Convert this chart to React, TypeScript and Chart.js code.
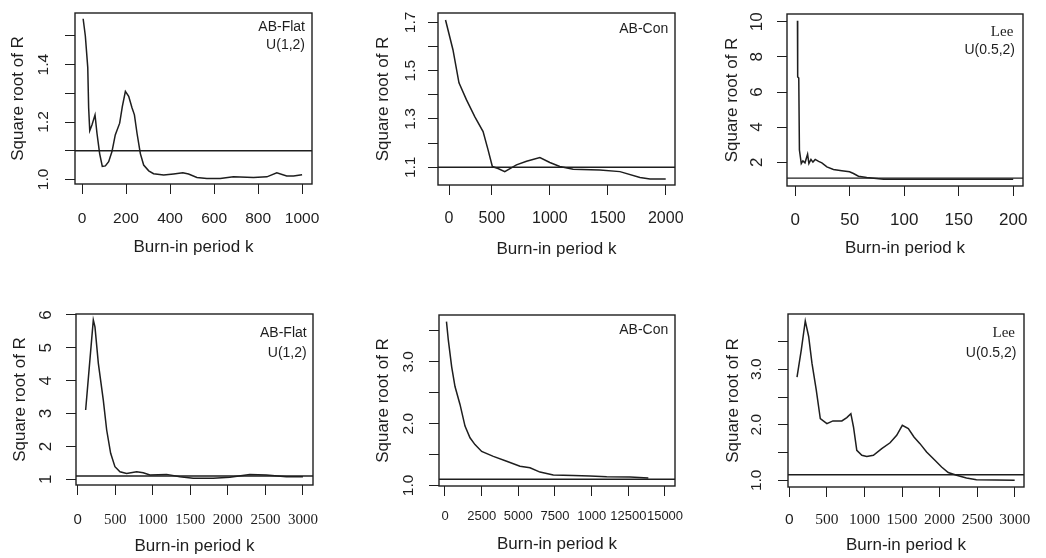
import React, { useEffect, useRef } from "react";
import { Chart, registerables } from "chart.js";
Chart.register(...registerables);

// ---------- data ----------
const xAxisTitle = "Burn-in period k";
const yAxisTitle = "Square root of R";
const threshold = 1.1;

// Panel 1: AB-Flat U(1,2)
const p1X = [5, 15, 26, 30, 35, 45, 59, 68, 80, 92, 106, 121, 136, 151, 171, 183, 197, 212, 227, 238, 250, 265, 280, 303, 325, 371, 416, 458, 484, 522, 567, 628, 688, 779, 840, 885, 930, 961, 1000];
const p1Y = [1.56, 1.5, 1.39, 1.25, 1.17, 1.19, 1.225, 1.16, 1.09, 1.045, 1.047, 1.062, 1.097, 1.155, 1.196, 1.254, 1.307, 1.29, 1.25, 1.225, 1.16, 1.09, 1.05, 1.03, 1.02, 1.015, 1.019, 1.023, 1.019, 1.007, 1.003, 1.003, 1.009, 1.007, 1.009, 1.023, 1.012, 1.012, 1.016];
const p1XTicks = [0, 200, 400, 600, 800, 1000];
const p1XTickLabels = ["0", "200", "400", "600", "800", "1000"];
const p1YTicks = [1.0, 1.1, 1.2, 1.3, 1.4, 1.5];
const p1YTickLabels = ["1.0", "", "1.2", "", "1.4", ""];
const p1Notes = ["AB-Flat", "U(1,2)"];

// Panel 2: AB-Con
const p2X = [100, 164, 216, 280, 352, 424, 467, 504, 553, 611, 712, 799, 914, 1000, 1086, 1201, 1432, 1605, 1778, 1864, 2000];
const p2Y = [1.71, 1.587, 1.45, 1.38, 1.31, 1.248, 1.172, 1.103, 1.095, 1.082, 1.11, 1.125, 1.14, 1.12, 1.103, 1.092, 1.089, 1.082, 1.058, 1.051, 1.051];
const p2XTicks = [130, 500, 1000, 1500, 2000];
const p2XTickLabels = ["0", "500", "1000", "1500", "2000"];
const p2YTicks = [1.1, 1.2, 1.3, 1.4, 1.5, 1.6, 1.7];
const p2YTickLabels = ["1.1", "", "1.3", "", "1.5", "", "1.7"];
const p2Notes = ["AB-Con"];

// Panel 3: Lee U(0.5,2)
const p3X = [2, 2.2, 3.2, 3.8, 5.5, 7, 8.9, 11.3, 12.5, 14.4, 16.2, 18.3, 21.4, 24.4, 29, 35, 42.7, 49.8, 53.4, 58, 65.6, 81, 100, 120, 140, 160, 180, 200];
const p3Y = [10.05, 6.86, 6.8, 2.7, 1.93, 2.08, 1.97, 2.46, 1.93, 2.16, 2.01, 2.16, 2.05, 1.97, 1.74, 1.59, 1.52, 1.46, 1.36, 1.21, 1.14, 1.04, 1.03, 1.04, 1.03, 1.04, 1.03, 1.03];
const p3XTicks = [0, 50, 100, 150, 200];
const p3XTickLabels = ["0", "50", "100", "150", "200"];
const p3YTicks = [2, 4, 6, 8, 10];
const p3YTickLabels = ["2", "4", "6", "8", "10"];
const p3Notes = ["Lee", "U(0.5,2)"];

// Panel 4: AB-Flat U(1,2)
const p4X = [106, 155, 208, 230, 275, 341, 386, 439, 496, 563, 652, 785, 873, 962, 1184, 1361, 1538, 1804, 2026, 2292, 2513, 2779, 3000];
const p4Y = [3.11, 4.43, 5.85, 5.64, 4.53, 3.41, 2.5, 1.79, 1.385, 1.23, 1.18, 1.23, 1.2, 1.13, 1.15, 1.08, 1.03, 1.03, 1.06, 1.15, 1.13, 1.08, 1.08];
const p4XTicks = [0, 500, 1000, 1500, 2000, 2500, 3000];
const p4XTickLabels = ["0", "500", "1000", "1500", "2000", "2500", "3000"];
const p4YTicks = [1, 2, 3, 4, 5, 6];
const p4YTickLabels = ["1", "2", "3", "4", "5", "6"];
const p4Notes = ["AB-Flat", "U(1,2)"];

// Panel 5: AB-Con
const p5X = [100, 227, 455, 682, 1023, 1364, 1705, 2045, 2500, 3295, 4205, 5114, 5795, 6477, 7386, 8750, 9886, 11023, 12614, 13864];
const p5Y = [3.65, 3.35, 2.92, 2.6, 2.31, 1.96, 1.77, 1.66, 1.55, 1.47, 1.39, 1.31, 1.285, 1.215, 1.17, 1.16, 1.15, 1.14, 1.135, 1.12];
const p5XTicks = [0, 2500, 5000, 7500, 10000, 12500, 15000];
const p5XTickLabels = ["0", "2500", "5000", "7500", "1000", "12500", "15000"];
const p5YTicks = [1.0, 1.5, 2.0, 2.5, 3.0, 3.5];
const p5YTickLabels = ["1.0", "", "2.0", "", "3.0", ""];
const p5Notes = ["AB-Con"];

// Panel 6: Lee U(0.5,2)
const p6X = [102, 159, 212, 257, 301, 358, 412, 500, 580, 699, 765, 819, 854, 898, 965, 1031, 1119, 1230, 1341, 1429, 1504, 1584, 1659, 1739, 1827, 1938, 2027, 2115, 2226, 2358, 2491, 3000];
const p6Y = [2.86, 3.35, 3.87, 3.59, 3.11, 2.63, 2.11, 2.02, 2.07, 2.07, 2.13, 2.2, 1.96, 1.54, 1.45, 1.43, 1.45, 1.57, 1.675, 1.81, 1.99, 1.93, 1.78, 1.66, 1.51, 1.36, 1.24, 1.14, 1.09, 1.04, 1.01, 1.0];
const p6XTicks = [0, 500, 1000, 1500, 2000, 2500, 3000];
const p6XTickLabels = ["0", "500", "1000", "1500", "2000", "2500", "3000"];
const p6YTicks = [1.0, 1.5, 2.0, 2.5, 3.0, 3.5];
const p6YTickLabels = ["1.0", "", "2.0", "", "3.0", ""];
const p6Notes = ["Lee", "U(0.5,2)"];

// ---------- layout / style ----------
const SANS = '"Liberation Sans", Arial, sans-serif';
const SERIF = '"Liberation Serif", "Times New Roman", serif';
const INK = "#1e1e1e";
const TICK_LEN = 10;
const TITLE_SIZE = 17;
const PAD_T = 10;
const PAD_R = 22;

type PanelCfg = {
  xs: number[]; ys: number[];
  xTicks: number[]; xLabels: string[];
  yTicks: number[]; yLabels: string[];
  notes: string[];
  noteSerif: boolean[];
  noteRight: number[]; noteY: number[];
  box: { l: number; t: number; r: number; b: number };
  xMin: number; xMax: number; yMin: number; yMax: number;
  yLabelOff: number; yTitleOff: number; xLabelOff: number; xTitleOff: number;
  xTickSize: number; yTickSize: number; xTickSerif: boolean;
};

const panels: PanelCfg[] = [
  {
    xs: p1X, ys: p1Y, xTicks: p1XTicks, xLabels: p1XTickLabels, yTicks: p1YTicks, yLabels: p1YTickLabels,
    notes: p1Notes, noteSerif: [false, false], noteRight: [7, 7], noteY: [13.7, 32],
    box: { l: 75, t: 13, r: 312, b: 184 }, xMin: -32, xMax: 1045, yMin: 0.984, yMax: 1.58,
    yLabelOff: 31.7, yTitleOff: 56.7, xLabelOff: 34.3, xTitleOff: 64, xTickSize: 15.5, yTickSize: 15.5, xTickSerif: false,
  },
  {
    xs: p2X, ys: p2Y, xTicks: p2XTicks, xLabels: p2XTickLabels, yTicks: p2YTicks, yLabels: p2YTickLabels,
    notes: p2Notes, noteSerif: [false], noteRight: [6.7], noteY: [16.3],
    box: { l: 438, t: 13, r: 675, b: 185 }, xMin: 35, xMax: 2080, yMin: 1.0266, yMax: 1.739,
    yLabelOff: 27.5, yTitleOff: 55, xLabelOff: 33.3, xTitleOff: 64.3, xTickSize: 16, yTickSize: 15.5, xTickSerif: false,
  },
  {
    xs: p3X, ys: p3Y, xTicks: p3XTicks, xLabels: p3XTickLabels, yTicks: p3YTicks, yLabels: p3YTickLabels,
    notes: p3Notes, noteSerif: [true, false], noteRight: [9.7, 8], noteY: [18.3, 36],
    box: { l: 787, t: 14, r: 1023, b: 186 }, xMin: -7.6, xMax: 209, yMin: 0.65, yMax: 10.44,
    yLabelOff: 30, yTitleOff: 54.4, xLabelOff: 34, xTitleOff: 62.3, xTickSize: 17, yTickSize: 17, xTickSerif: false,
  },
  {
    xs: p4X, ys: p4Y, xTicks: p4XTicks, xLabels: p4XTickLabels, yTicks: p4YTicks, yLabels: p4YTickLabels,
    notes: p4Notes, noteSerif: [false, false], noteRight: [6.3, 6.3], noteY: [19.3, 39.3],
    box: { l: 76, t: 314, r: 313, b: 485 }, xMin: -22.6, xMax: 3134, yMin: 0.827, yMax: 6.03,
    yLabelOff: 29.3, yTitleOff: 56, xLabelOff: 35, xTitleOff: 61.7, xTickSize: 15, yTickSize: 17, xTickSerif: true,
  },
  {
    xs: p5X, ys: p5Y, xTicks: p5XTicks, xLabels: p5XTickLabels, yTicks: p5YTicks, yLabels: p5YTickLabels,
    notes: p5Notes, noteSerif: [false], noteRight: [6.7], noteY: [15],
    box: { l: 439, t: 315, r: 675, b: 486 }, xMin: -409, xMax: 15682, yMin: 0.99, yMax: 3.758,
    yLabelOff: 30.7, yTitleOff: 55.7, xLabelOff: 30.7, xTitleOff: 59, xTickSize: 13, yTickSize: 15.5, xTickSerif: false,
  },
  {
    xs: p6X, ys: p6Y, xTicks: p6XTicks, xLabels: p6XTickLabels, yTicks: p6YTicks, yLabels: p6YTickLabels,
    notes: p6Notes, noteSerif: [true, false], noteRight: [9, 7.6], noteY: [18.7, 39.3],
    box: { l: 788, t: 314, r: 1024, b: 487 }, xMin: -18, xMax: 3124, yMin: 0.879, yMax: 3.995,
    yLabelOff: 31, yTitleOff: 55.2, xLabelOff: 32.7, xTitleOff: 58.3, xTickSize: 15.5, yTickSize: 15.5, xTickSerif: true,
  },
];

let measureCtx: CanvasRenderingContext2D | null = null;
function textWidth(font: string, s: string): number {
  if (!measureCtx) measureCtx = document.createElement("canvas").getContext("2d");
  if (!measureCtx) return 0;
  measureCtx.font = font;
  return measureCtx.measureText(s).width;
}

function geometry(p: PanelCfg) {
  const W = Math.round(p.yTitleOff + (TITLE_SIZE * 1.2) / 2);
  const H = Math.round(p.xTitleOff + (TITLE_SIZE * 1.2) / 2);
  const bw = p.box.r - p.box.l;
  const bh = p.box.b - p.box.t;
  return { W, H, left: p.box.l - W, top: p.box.t - PAD_T, width: W + bw + PAD_R, height: PAD_T + bh + H };
}

function Panel({ p }: { p: PanelCfg }) {
  const ref = useRef<HTMLCanvasElement | null>(null);
  const g = geometry(p);

  useEffect(() => {
    if (!ref.current) return;
    const yFont = `${p.yTickSize}px ${SANS}`;
    const widest = Math.max(...p.yLabels.map((s) => textWidth(yFont, s)));
    const yPad = p.yLabelOff - TICK_LEN - widest / 2;
    const xPad = p.xLabelOff - TICK_LEN - (p.xTickSize * 1.2) / 2;

    const frame = {
      id: "frame",
      afterDatasetsDraw(chart: any) {
        const { ctx, chartArea: a } = chart;
        ctx.save();
        ctx.strokeStyle = INK;
        ctx.lineWidth = 1.4;
        ctx.strokeRect(a.left, a.top, a.right - a.left, a.bottom - a.top);
        ctx.restore();
      },
    };
    const notes = {
      id: "notes",
      afterDraw(chart: any) {
        const { ctx, chartArea: a } = chart;
        ctx.save();
        ctx.fillStyle = INK;
        ctx.textAlign = "right";
        ctx.textBaseline = "middle";
        p.notes.forEach((t, i) => {
          ctx.font = p.noteSerif[i] ? `15px ${SERIF}` : `14px ${SANS}`;
          ctx.fillText(t, a.right - p.noteRight[i], a.top + p.noteY[i]);
        });
        ctx.restore();
      },
    };

    const chart = new Chart(ref.current, {
      type: "line",
      data: {
        datasets: [
          {
            data: p.xs.map((x, i) => ({ x, y: p.ys[i] })),
            borderColor: INK,
            borderWidth: 1.5,
            pointRadius: 0,
            tension: 0,
            fill: false,
          },
          {
            data: [
              { x: p.xMin, y: threshold },
              { x: p.xMax, y: threshold },
            ],
            borderColor: INK,
            borderWidth: 1.4,
            pointRadius: 0,
            fill: false,
          },
        ],
      },
      options: {
        animation: false,
        responsive: false,
        maintainAspectRatio: false,
        events: [],
        layout: { padding: { left: 0, top: PAD_T, right: PAD_R, bottom: 0 } },
        plugins: { legend: { display: false }, tooltip: { enabled: false } },
        scales: {
          x: {
            type: "linear",
            position: "bottom",
            min: p.xMin,
            max: p.xMax,
            afterBuildTicks: (s: any) => {
              s.ticks = p.xTicks.map((v) => ({ value: v }));
            },
            afterFit: (s: any) => {
              s.height = g.H;
              s.paddingLeft = 0;
              s.paddingRight = 0;
            },
            ticks: {
              autoSkip: false,
              maxRotation: 0,
              minRotation: 0,
              padding: xPad,
              color: INK,
              font: (c: any) => ({
                family: p.xTickSerif && c.index !== 0 ? SERIF : SANS,
                size: p.xTickSize,
              }),
              callback: (_v: any, i: number) => p.xLabels[i],
            },
            grid: { display: true, drawOnChartArea: false, drawTicks: true, tickLength: TICK_LEN, color: INK, lineWidth: 1 },
            border: { display: false },
            title: {
              display: true,
              text: xAxisTitle,
              color: INK,
              font: { family: SANS, size: TITLE_SIZE },
              padding: { top: 0, bottom: 0 },
            },
          },
          y: {
            type: "linear",
            position: "left",
            min: p.yMin,
            max: p.yMax,
            afterBuildTicks: (s: any) => {
              s.ticks = p.yTicks.map((v) => ({ value: v }));
            },
            afterFit: (s: any) => {
              s.width = g.W;
              s.paddingTop = 0;
              s.paddingBottom = 0;
            },
            ticks: {
              autoSkip: false,
              minRotation: 90,
              maxRotation: 90,
              crossAlign: "center",
              padding: yPad,
              color: INK,
              font: { family: SANS, size: p.yTickSize },
              callback: (_v: any, i: number) => p.yLabels[i],
            },
            grid: { display: true, drawOnChartArea: false, drawTicks: true, tickLength: TICK_LEN, color: INK, lineWidth: 1 },
            border: { display: false },
            title: {
              display: true,
              text: yAxisTitle,
              color: INK,
              font: { family: SANS, size: TITLE_SIZE },
              padding: { top: 0, bottom: 0 },
            },
          },
        },
      } as any,
      plugins: [frame, notes],
    });
    return () => chart.destroy();
  }, []);

  return (
    <canvas
      ref={ref}
      width={g.width}
      height={g.height}
      style={{ position: "absolute", left: g.left, top: g.top, width: g.width, height: g.height }}
    />
  );
}

export default function App() {
  return (
    <div
      style={{
        position: "absolute",
        left: 0,
        top: 0,
        width: 1046,
        height: 558,
        overflow: "hidden",
        background: "#ffffff",
      }}
    >
      {panels.map((p, i) => (
        <Panel key={i} p={p} />
      ))}
    </div>
  );
}
